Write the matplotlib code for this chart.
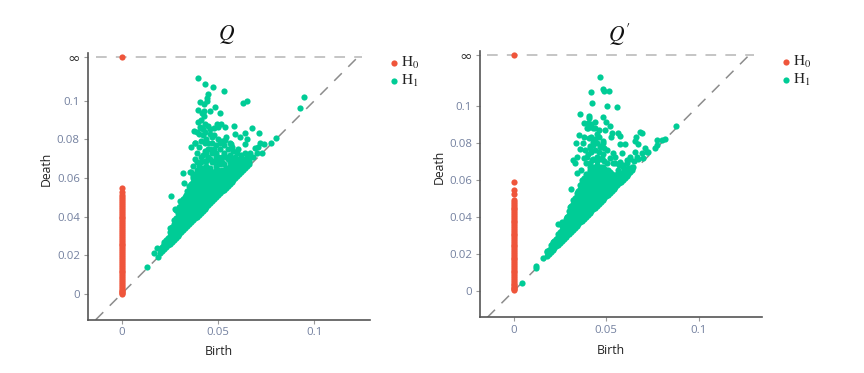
import matplotlib
matplotlib.use("Agg")
import matplotlib.pyplot as plt
from matplotlib.ticker import FixedLocator, FixedFormatter

RED = "#EF553B"
GREEN = "#00CC96"
plt.rcParams["mathtext.fontset"] = "stix"

# ---------- panel Q ----------
q_h0_death = [0.0, .0005, .001, .0015, .002, .003, .004, .005, .006, .007, .008, .009, .010, .011, .012, .013, .014, .015,
              .016, .017, .018, .019, .020, .021, .022, .023, .024, .025, .026, .027, .028, .029, .030, .031, .032,
              .033, .034, .035, .036, .037, .038, .039, .040, .041, .042, .043, .044, .045, .046, .047, .048, .049,
              .050, .051, .0525, .055]
q_inf = 0.1228
q_outliers = [(.0398,.1116),(.0434,.1088),(.0474,.1071),(.0530,.1050),(.0448,.1033),(.0441,.1012),(.0407,.0995),
 (.0426,.0983),(.0445,.1000),(.0632,.0990),(.0652,.0998),(.0948,.1017),(.0924,.0960),(.0396,.0952),(.0429,.0948),
 (.0457,.0948),(.0485,.0969),(.0511,.0934),(.0415,.0934),(.0426,.0921),(.0398,.0889),(.0493,.0879),(.0514,.0881),
 (.0498,.0862),(.0538,.0865),(.0583,.0870),(.0678,.0857),(.0376,.0845),(.0407,.0862),(.0424,.0851),(.0459,.0851),
 (.0640,.0834),(.0586,.0829),(.0715,.0834),(.0613,.0810),(.0652,.0801),(.0800,.0805),(.0775,.0781),(.0718,.0782),
 (.0741,.0775),(.0692,.0753),(.0710,.0758),(.0642,.0774),(.0569,.0775),(.0535,.0796),(.0358,.0758),(.0381,.0782),
 (.0727,.0731),(.0606,.0748),(.0666,.0731),(.0317,.0623),(.0355,.0629),(.0258,.0508),(.0303,.0482),(.0324,.0572),
 (.0279,.0439),(.0133,.0136),(.0168,.0209),(.0182,.0235),(.0187,.0192),(.0220,.0256),(.0260,.0347),(.0280,.0433),
 (.0334,.0511),(.036,.063),(.037,.066),(.038,.070),(.039,.073),(.040,.076),(.041,.079),(.042,.082),(.038,.078),
 (.040,.083),(.041,.086),(.043,.084),(.044,.080),(.046,.083),(.048,.082),(.047,.078),(.049,.077),(.045,.075),
 (.043,.074),(.041,.071),(.043,.069),(.045,.071),(.047,.073),(.049,.073),(.051,.075),(.053,.077),(.055,.075),
 (.052,.071),(.050,.069),(.047,.068),(.044,.066),(.042,.065),(.046,.065),(.049,.066),(.052,.068),(.054,.071),
 (.056,.072),(.058,.074),(.060,.073),(.062,.072),(.058,.070),(.056,.068),(.059,.068),(.061,.070),(.064,.073),
 (.066,.072),(.068,.071),(.065,.071),(.070,.073),(.054,.081),(.056,.078),(.050,.080),(.052,.079),(.048,.086),
 (.045,.087),(.043,.088),(.041,.090),(.039,.084),(.038,.062),(.040,.066),(.041,.068),(.042,.072),(.044,.073),
 (.046,.075),(.048,.075),(.050,.071),(.045,.078),(.047,.081),(.043,.078),(.039,.068),(.037,.061),(.051,.078),
 (.053,.073),(.055,.070),(.057,.076),(.059,.071),(.063,.070),(.049,.071),(.046,.070),(.044,.069),(.051,.067),
 (.053,.067),(.048,.069)]
q_mass_birth = [.020,.022,.024,.026,.028,.030,.032,.034,.036,.038,.040,.042,.044,.046,.048,.050,.052,.054,.056,.058,.060,.062,.064,.066,
                .021,.023,.025,.027,.029,.031,.033,.035,.037,.039,.041,.043,.045,.047,.049,.051,.053,.055,.057,.059,.061,.063,.065]
q_mass_death = [
 [.021,.023],[.023,.025,.027],[.025,.027,.029],[.027,.029,.031,.033],[.029,.031,.033,.035,.037,.039],
 [.031,.033,.035,.037,.039,.041,.043,.045],[.033,.035,.037,.039,.041,.043,.045,.047,.049],[.035,.037,.039,.041,.043,.045,.047,.049,.051,.053],
 [.037,.039,.041,.043,.045,.047,.049,.051,.053,.055,.057],[.039,.041,.043,.045,.047,.049,.051,.053,.055,.057,.059,.061],
 [.041,.043,.045,.047,.049,.051,.053,.055,.057,.059,.061,.063],[.043,.045,.047,.049,.051,.053,.055,.057,.059,.061,.063],
 [.045,.047,.049,.051,.053,.055,.057,.059,.061,.063],[.047,.049,.051,.053,.055,.057,.059,.061,.064],
 [.049,.051,.053,.055,.057,.059,.061,.063],[.051,.053,.055,.057,.059,.061,.064],[.053,.055,.057,.059,.061,.064],
 [.055,.057,.059,.061,.063,.065],[.057,.059,.061,.063,.066],[.059,.061,.063,.065,.067],[.061,.063,.065,.067],
 [.063,.065,.068],[.065,.067,.069],[.067,.069,.071],
 [.022,.024],[.024,.026,.028],[.026,.028,.030,.032,.034],[.028,.030,.032,.034,.036,.038],[.030,.032,.034,.036,.038,.040,.042],
 [.032,.034,.036,.038,.040,.042,.044,.046],[.034,.036,.038,.040,.042,.044,.046,.048,.050],
 [.036,.038,.040,.042,.044,.046,.048,.050,.052,.054,.056],[.038,.040,.042,.044,.046,.048,.050,.052,.054,.056,.058,.060],
 [.040,.042,.044,.046,.048,.050,.052,.054,.056,.058,.060,.062,.064],[.042,.044,.046,.048,.050,.052,.054,.056,.058,.060,.062,.064],
 [.044,.046,.048,.050,.052,.054,.056,.058,.060,.062,.064],[.046,.048,.050,.052,.054,.056,.058,.060,.062,.064],
 [.048,.050,.052,.054,.056,.058,.060,.062],[.050,.052,.054,.056,.058,.060,.062,.064],[.052,.054,.056,.058,.060,.063],
 [.054,.056,.058,.060,.063],[.056,.058,.060,.062,.064],[.058,.060,.062,.065],[.060,.062,.064,.066],[.062,.064,.067],
 [.064,.066,.068],[.066,.068,.070]]

# ---------- panel Q' ----------
qp_h0_death = [.0005, .001, .0015, .002, .003, .004, .005, .006, .007, .008, .009, .010, .011, .012, .013, .014, .015, .016,
               .017, .018, .019, .020, .021, .022, .023, .024, .025, .026, .027, .028, .029, .030, .031, .032, .033,
               .034, .035, .036, .037, .038, .039, .040, .041, .042, .043, .044, .045, .046, .047, .048, .0491,
               .0522, .0545, .059]
qp_inf = 0.1274
qp_outliers = [(.0468,.1157),(.0418,.1076),(.0485,.1090),(.0488,.1079),(.0517,.1081),(.0422,.1015),(.0503,.1000),
 (.0560,.0995),(.0360,.0955),(.0407,.0944),(.0409,.0932),(.0485,.0941),(.0380,.0905),(.0404,.0908),(.0440,.0914),
 (.0499,.0914),(.0521,.0890),(.0395,.0878),(.0431,.0878),(.0449,.0847),(.0494,.0869),(.0530,.0854),(.0526,.0833),
 (.0566,.0851),(.0575,.0836),(.0683,.0860),(.0692,.0854),(.0661,.0829),(.0656,.0811),(.0674,.0791),(.0355,.0844),
 (.0335,.0800),(.0373,.0800),(.0409,.0824),(.0431,.0806),(.0575,.0793),(.0600,.0793),(.0876,.0892),(.0777,.0815),
 (.0800,.0815),(.0818,.0822),(.0764,.0770),(.0773,.0788),(.0710,.0770),(.0728,.0752),(.0467,.0779),(.0503,.0761),
 (.0485,.0797),(.0359,.0766),(.0386,.0761),(.0413,.0770),(.0341,.0725),(.0323,.0707),(.0332,.0689),(.0341,.0635),
 (.0362,.0653),(.0310,.0550),(.0395,.0725),(.0422,.0707),(.0449,.0725),(.0476,.0716),(.0539,.0743),(.0584,.0743),
 (.0548,.0725),(.0503,.0689),(.0539,.0689),(.0575,.0698),(.0611,.0707),(.0629,.0725),(.0656,.0752),(.0665,.0725),
 (.0692,.0743),(.0719,.0752),(.0647,.0671),(.0620,.0662),(.0593,.0671),(.0566,.0653),(.0413,.0671),(.0449,.0680),
 (.0485,.0671),(.0043,.0041),(.0121,.0135),(.0121,.0122),(.0160,.0176),(.0182,.0218),(.0211,.0263),(.0241,.0362),
 (.0263,.0371),(.0250,.0293),(.0286,.0401),(.0323,.0491),(.0341,.0527),(.0304,.0455),(.038,.072),(.040,.074),
 (.042,.075),(.044,.076),(.046,.075),(.048,.074),(.041,.078),(.043,.079),(.045,.080),(.047,.078),(.049,.077),
 (.042,.083),(.044,.082),(.046,.083),(.048,.081),(.040,.088),(.042,.090),(.044,.088),(.046,.087),(.038,.083),
 (.039,.069),(.041,.069),(.043,.071),(.045,.070),(.047,.071),(.049,.070),(.052,.072),(.055,.069),(.057,.068),
 (.059,.068),(.061,.069),(.063,.071),(.065,.070),(.067,.071),(.070,.072)]
qp_mass_birth = [.018,.020,.022,.024,.026,.028,.030,.032,.034,.036,.038,.040,.042,.044,.046,.048,.050,.052,.054,.056,.058,.060,.062,.064,
                 .019,.021,.023,.025,.027,.029,.031,.033,.035,.037,.039,.041,.043,.045,.047,.049,.051,.053,.055,.057,.059,.061,.063]
qp_mass_death = [
 [.019,.021],[.021,.023,.025],[.023,.025,.027],[.025,.027,.029,.031],[.027,.029,.031,.033,.035],
 [.029,.031,.033,.035,.037,.039],[.031,.033,.035,.037,.039,.041,.043],[.033,.035,.037,.039,.041,.043,.045,.047],
 [.035,.037,.039,.041,.043,.045,.047,.049,.051],[.037,.039,.041,.043,.045,.047,.049,.051,.053,.055,.057],
 [.039,.041,.043,.045,.047,.049,.051,.053,.055,.057,.059,.061],[.041,.043,.045,.047,.049,.051,.053,.055,.057,.059,.061,.063],
 [.043,.045,.047,.049,.051,.053,.055,.057,.059,.061,.063,.065],[.045,.047,.049,.051,.053,.055,.057,.059,.061,.063,.066],
 [.047,.049,.051,.053,.055,.057,.059,.061,.063,.066],[.049,.051,.053,.055,.057,.059,.061,.063,.066],
 [.051,.053,.055,.057,.059,.061,.063,.065],[.053,.055,.057,.059,.061,.064],[.055,.057,.059,.062],
 [.057,.059,.061,.063],[.059,.061,.063],[.061,.063,.065],[.063,.065],[.065,.067],
 [.020,.022],[.022,.024,.026],[.024,.026,.028],[.026,.028,.030,.032],[.028,.030,.032,.034,.036],
 [.030,.032,.034,.036,.038,.040],[.032,.034,.036,.038,.040,.042,.044,.046],[.034,.036,.038,.040,.042,.044,.046,.048,.050],
 [.036,.038,.040,.042,.044,.046,.048,.050,.052,.054],[.038,.040,.042,.044,.046,.048,.050,.052,.054,.056,.058,.060],
 [.040,.042,.044,.046,.048,.050,.052,.054,.056,.058,.060,.063],[.042,.044,.046,.048,.050,.052,.054,.056,.058,.060,.062,.065],
 [.044,.046,.048,.050,.052,.054,.056,.058,.060,.062,.064,.067],[.046,.048,.050,.052,.054,.056,.058,.060,.062,.064,.066],
 [.048,.050,.052,.054,.056,.058,.060,.062,.064,.067],[.050,.052,.054,.056,.058,.060,.062,.064,.066],
 [.052,.054,.056,.058,.060,.062,.065],[.054,.056,.058,.060,.063],[.056,.058,.060,.062],[.058,.060,.063],
 [.060,.062,.064],[.062,.064,.066],[.064,.066]]

x_ticks = [0, 0.05, 0.1]
x_tick_labels = ["0", "0.05", "0.1"]
y_ticks = [0, 0.02, 0.04, 0.06, 0.08, 0.1]
y_tick_labels = ["0", "0.02", "0.04", "0.06", "0.08", "0.1"]

W, H = 864, 373
fig = plt.figure(figsize=(W / 100, H / 100), dpi=100, facecolor="white")


def panel(box, xlim, ylim, diag, inf, h0, outliers, mb, md, title, xlab_px, ylab_px, title_px, leg_px):
    l, t, r, b = box
    ax = fig.add_axes([l / W, 1 - b / H, (r - l) / W, (b - t) / H])
    ax.set_xlim(*xlim)
    ax.set_ylim(*ylim)
    ax.plot([diag[0], diag[1]], [diag[0], diag[1]], color="#8c8c8c", lw=1.1, dashes=(7, 6), zorder=1)
    ax.plot([diag[0], diag[1]], [inf, inf], color="#b5b5b5", lw=1.1, dashes=(7, 6), zorder=1)
    bx = [p[0] for p in outliers]
    dy = [p[1] for p in outliers]
    for bv, col in zip(mb, md):
        bx += [bv] * len(col)
        dy += col
    ax.scatter(bx, dy, s=20, color=GREEN, lw=0, zorder=3, label=r"$\mathrm{H}_1$")
    ax.scatter([0] * (len(h0) + 1), h0 + [inf], s=20, color=RED, lw=0, zorder=4, label=r"$\mathrm{H}_0$")
    for s in ("top", "right"):
        ax.spines[s].set_visible(False)
    for s in ("left", "bottom"):
        ax.spines[s].set_color("#555555")
        ax.spines[s].set_linewidth(1.2)
    ax.xaxis.set_major_locator(FixedLocator(x_ticks))
    ax.xaxis.set_major_formatter(FixedFormatter(x_tick_labels))
    ax.yaxis.set_major_locator(FixedLocator(y_ticks + [inf]))
    ax.yaxis.set_major_formatter(FixedFormatter(y_tick_labels + ["∞"]))
    ax.tick_params(length=3, width=0.8, color="#999999", labelsize=8.2, labelcolor="#73809f", pad=2.5)
    for lab in ax.get_xticklabels() + ax.get_yticklabels():
        lab.set_fontfamily("Open Sans")
    infl = ax.get_yticklabels()[-1]
    infl.set_color("#333333")
    infl.set_fontsize(11)
    infl.set_fontfamily("DejaVu Sans")
    fig.text(xlab_px[0] / W, 1 - xlab_px[1] / H, "Birth", ha="center", va="center", fontsize=8.8,
             color="#222222", family="Open Sans")
    fig.text(ylab_px[0] / W, 1 - ylab_px[1] / H, "Death", ha="center", va="center", rotation=90, fontsize=8.8,
             color="#222222", family="Open Sans")
    fig.text(title_px[0] / W, 1 - title_px[1] / H, title, ha="center", va="center", fontsize=15.5, color="#111111")
    handles, labels = ax.get_legend_handles_labels()
    leg = ax.legend(handles[::-1], labels[::-1], loc="center left",
                    bbox_to_anchor=(leg_px[0] / W, 1 - leg_px[1] / H), bbox_transform=fig.transFigure,
                    frameon=False, fontsize=11, handletextpad=0.0, labelspacing=0.12, borderpad=0,
                    borderaxespad=0, handlelength=0.9, scatterpoints=1)
    for tx in leg.get_texts():
        tx.set_color("#222222")
    return ax


panel((87.5, 52.7, 370, 319.7), (-0.01776, 0.1289), (-0.01347, 0.1249), (-0.0135, 0.125), q_inf,
      q_h0_death, q_outliers, q_mass_birth, q_mass_death, "$Q$", (219, 351.7), (46.7, 169), (227, 35), (387, 72))
panel((479.7, 51.3, 761.7, 317.3), (-0.01838, 0.13405), (-0.0142, 0.1293), (-0.0142, 0.1297), qp_inf,
      qp_h0_death, qp_outliers, qp_mass_birth, qp_mass_death, "$Q'$", (611, 350), (439, 167.3), (620, 35), (779, 71))

fig.savefig("out.png", dpi=100)
